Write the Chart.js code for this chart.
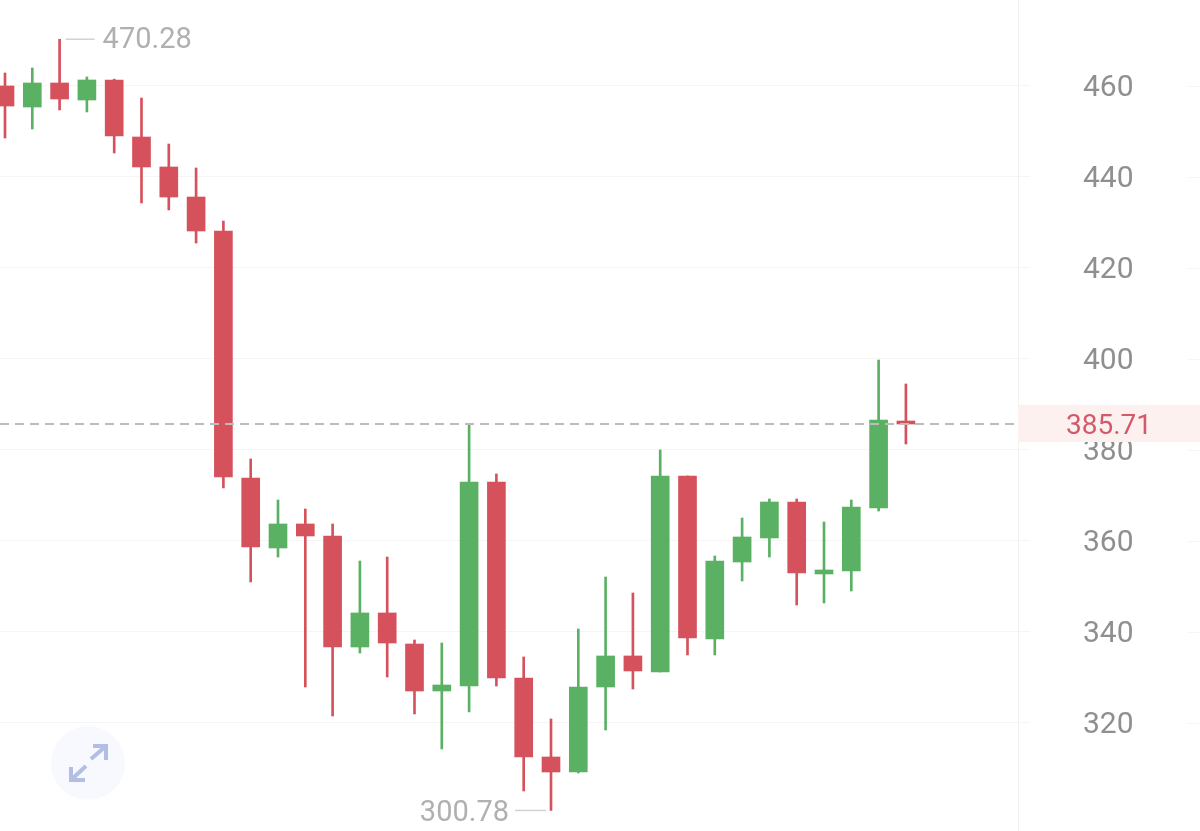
<!DOCTYPE html>
<html>
<head>
<meta charset="utf-8">
<style>
  html, body { margin: 0; padding: 0; background: #fff; }
  canvas { display: block; }
</style>
<script src="https://cdn.jsdelivr.net/npm/chart.js@4/dist/chart.umd.min.js"></script>
</head>
<body>
<canvas id="myChart" width="1200" height="831"></canvas>
<script>
const opens = [460, 455.38, 460.66, 456.92, 461.32, 448.79, 442.2, 435.6, 428.13, 373.85, 358.46, 363.74, 361.1, 336.7, 344.18, 337.36, 327.03, 328.13, 372.97, 329.89, 312.53, 309.23, 327.91, 334.73, 331.21, 374.29, 338.46, 355.38, 360.66, 368.57, 352.75, 353.41, 367.25, 386.37];
const closes = [455.6, 460.66, 457.14, 461.32, 449.01, 442.2, 435.6, 428.13, 374.07, 358.68, 363.74, 361.1, 336.7, 344.18, 337.58, 327.03, 328.35, 372.97, 329.89, 312.53, 309.23, 327.91, 334.73, 331.43, 374.29, 338.68, 355.6, 360.88, 368.57, 352.97, 353.63, 367.47, 386.59, 385.71];
const highs = [462.86, 463.96, 470.28, 461.98, 461.5, 457.36, 447.25, 441.98, 430.33, 378.02, 369.01, 367.03, 363.74, 355.6, 356.48, 338.24, 337.58, 385.6, 374.73, 334.51, 320.88, 340.66, 352.09, 348.57, 380, 374.29, 356.7, 365.05, 369.23, 369.23, 364.18, 369.01, 399.78, 394.51];
const lows = [448.57, 450.55, 454.73, 454.29, 445.27, 434.29, 432.75, 425.49, 371.65, 350.99, 356.48, 327.91, 321.54, 335.38, 330.11, 321.98, 314.29, 322.42, 328.13, 305.05, 300.78, 309.01, 318.46, 327.47, 331.21, 334.95, 334.95, 351.21, 356.48, 345.93, 346.37, 349.01, 366.59, 381.32];
const yTicks = [320, 340, 360, 380, 400, 420, 440, 460];

const lastPrice = 385.71;
const maxPrice = 470.28;
const minPrice = 300.78;
const maxIndex = 2;
const minIndex = 20;

const RED = '#d5515c';
const GREEN = '#5ab163';
const colors = opens.map((o, i) => (closes[i] >= o ? GREEN : RED));

const wicks = highs.map((h, i) => ({ x: i, y: [lows[i], h] }));
const bodies = opens.map((o, i) => ({ x: i, y: [o, closes[i]] }));

const overlay = {
    id: 'overlay',
    beforeDatasetsDraw(chart) {
        const ctx = chart.ctx;
        const yScale = chart.scales.y;
        // little grid stubs at the right edge
        ctx.save();
        ctx.strokeStyle = '#f5f5f5';
        ctx.lineWidth = 1;
        yTicks.forEach(t => {
            const y = Math.round(yScale.getPixelForValue(t)) + 0.5;
            ctx.beginPath();
            ctx.moveTo(chart.width - 12, y);
            ctx.lineTo(chart.width, y);
            ctx.stroke();
        });
        ctx.restore();
    },
    afterDatasetsDraw(chart) {
        const ctx = chart.ctx;
        const xScale = chart.scales.x;
        const yScale = chart.scales.y;
        const area = chart.chartArea;
        const yLast = yScale.getPixelForValue(lastPrice);

        ctx.save();
        // last price line
        ctx.strokeStyle = '#bcbcbc';
        ctx.lineWidth = 2;
        ctx.setLineDash([9, 6]);
        ctx.beginPath();
        ctx.moveTo(area.left, yLast);
        ctx.lineTo(area.right - 4, yLast);
        ctx.stroke();
        ctx.setLineDash([]);

        // last price tag
        ctx.fillStyle = '#fdf1f0';
        ctx.fillRect(area.right, yLast - 19, chart.width - area.right, 37);
        ctx.fillStyle = '#d4596a';
        ctx.font = '28px Roboto';
        ctx.textAlign = 'center';
        ctx.textBaseline = 'middle';
        ctx.fillText(lastPrice.toFixed(2), 1109, yLast + 3);

        // high and low labels
        ctx.font = '29px Roboto';
        ctx.fillStyle = '#b0b0b0';
        ctx.strokeStyle = '#d2d2d2';
        ctx.lineWidth = 1.5;
        const xMax = xScale.getPixelForValue(maxIndex);
        const yMax = yScale.getPixelForValue(maxPrice);
        ctx.beginPath();
        ctx.moveTo(xMax + 6, yMax);
        ctx.lineTo(xMax + 35, yMax);
        ctx.stroke();
        ctx.textAlign = 'left';
        ctx.fillText(maxPrice.toFixed(2), xMax + 43, yMax + 2);

        const xMin = xScale.getPixelForValue(minIndex);
        const yMin = yScale.getPixelForValue(minPrice);
        ctx.beginPath();
        ctx.moveTo(xMin - 5, yMin);
        ctx.lineTo(xMin - 36, yMin);
        ctx.stroke();
        ctx.textAlign = 'right';
        ctx.fillText(minPrice.toFixed(2), xMin - 42, yMin + 3);

        // expand button
        ctx.fillStyle = '#f8f9fe';
        ctx.beginPath();
        ctx.arc(88, 763, 37, 0, Math.PI * 2);
        ctx.fill();
        ctx.strokeStyle = '#b2bee4';
        ctx.lineWidth = 4;
        ctx.beginPath();
        ctx.moveTo(93, 746);
        ctx.lineTo(106, 746);
        ctx.lineTo(106, 760);
        ctx.moveTo(106, 746);
        ctx.lineTo(91, 759);
        ctx.moveTo(71, 767);
        ctx.lineTo(71, 780);
        ctx.lineTo(85, 780);
        ctx.moveTo(71, 780);
        ctx.lineTo(86, 766);
        ctx.stroke();
        ctx.restore();
    }
};

new Chart(document.getElementById('myChart'), {
    type: 'bar',
    data: {
        datasets: [
            {
                label: 'wick',
                data: wicks,
                backgroundColor: colors,
                barThickness: 2,
                grouped: false,
                borderSkipped: false,
                order: 2
            },
            {
                label: 'body',
                data: bodies,
                backgroundColor: colors,
                barThickness: 18,
                grouped: false,
                borderSkipped: false,
                order: 1
            }
        ]
    },
    plugins: [overlay],
    options: {
        responsive: false,
        animation: false,
        layout: { padding: 0 },
        plugins: {
            legend: { display: false },
            tooltip: { enabled: false }
        },
        scales: {
            x: {
                type: 'linear',
                display: false,
                offset: false,
                min: -0.183,
                max: 37.106,
                grid: { display: false }
            },
            y: {
                position: 'right',
                min: 296.26,
                max: 478.9,
                afterBuildTicks(scale) {
                    scale.ticks = yTicks.map(v => ({ value: v }));
                },
                afterFit(scale) {
                    // padding of the labels must not shrink the plot
                    scale.width = 182;
                    scale.paddingTop = 0;
                    scale.paddingBottom = 0;
                },
                border: { color: '#f1f1f1', width: 1 },
                grid: { color: '#f5f5f5', lineWidth: 1, tickLength: 12 },
                ticks: {
                    color: '#8f8f8f',
                    crossAlign: 'center',
                    padding: 53,
                    labelOffset: 3,
                    font: { family: 'Roboto', size: 30 },
                    callback: v => String(v)
                }
            }
        }
    }
});
</script>
</body>
</html>
